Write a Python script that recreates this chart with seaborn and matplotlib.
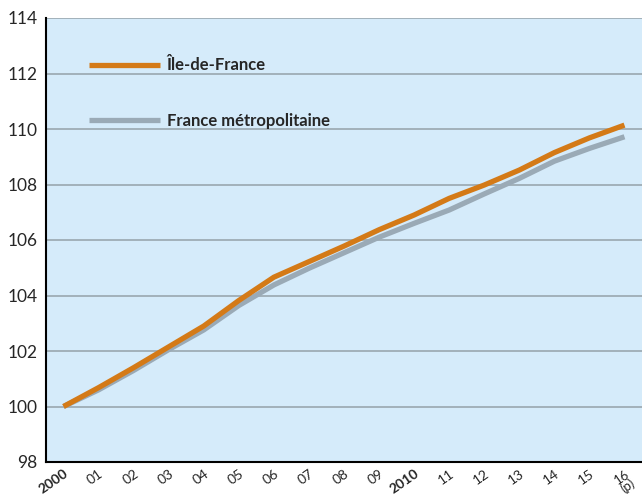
import numpy as np
import pandas as pd
import matplotlib
matplotlib.use("Agg")
import matplotlib.pyplot as plt
import seaborn as sns

# années (2016 provisoire)
annees = ["2000", "01", "02", "03", "04", "05", "06", "07", "08", "09",
          "2010", "11", "12", "13", "14", "15", "16\n(p)"]
idf = [100.0, 100.68, 101.4, 102.15, 102.9, 103.82, 104.66, 105.22, 105.78,
       106.37, 106.9, 107.5, 107.98, 108.52, 109.15, 109.68, 110.14]
fm = [100.0, 100.6, 101.3, 102.05, 102.76, 103.64, 104.38, 104.98, 105.54,
      106.1, 106.6, 107.08, 107.66, 108.22, 108.84, 109.3, 109.72]

df = pd.DataFrame({
    "x": list(range(len(annees))) * 2,
    "valeur": idf + fm,
    "zone": ["Île-de-France"] * len(idf) + ["France métropolitaine"] * len(fm),
})

sns.set_style("white")
plt.rcParams["font.family"] = ["Lato", "DejaVu Sans"]

fig = plt.figure(figsize=(6.42, 4.96), dpi=100)
ax = fig.add_axes([46 / 642, 34 / 496, 596 / 642, 444 / 496])
ax.set_facecolor("#D5EBFA")

sns.lineplot(data=df, x="x", y="valeur", hue="zone",
             palette={"Île-de-France": "#D47A17", "France métropolitaine": "#9AAAB6"},
             hue_order=["France métropolitaine", "Île-de-France"],
             linewidth=3.8, ax=ax, legend=False)
lines = ax.get_lines()
lines[0].set_zorder(2)
lines[1].set_zorder(3)
for l in lines:
    l.set_solid_capstyle("butt")

ax.set_xlim(-0.5, len(annees) - 0.5)
ax.set_ylim(98, 114)
ax.set_yticks(np.arange(98, 115, 2))
ax.yaxis.grid(True, color="#9AA7AF", linewidth=1.2)
ax.set_axisbelow(True)

ax.set_xticks(range(len(annees)))
ax.set_xticklabels(annees, rotation=35, ha="right", rotation_mode="anchor",
                   fontsize=10, linespacing=0.85)
for lab in ax.get_xticklabels():
    if lab.get_text() in ("2000", "2010"):
        lab.set_fontweight("bold")
    if lab.get_text().startswith("16"):
        lab.set_fontsize(9.5)
ax.set_xticks(np.arange(0.5, len(annees) - 0.5, 1), minor=True)
ax.tick_params(axis="x", which="major", length=0, pad=4)
ax.tick_params(axis="x", which="minor", direction="in", length=6, width=1.5, color="black")
ax.tick_params(axis="y", labelsize=12.5, length=4, width=1.2, color="black", direction="out", pad=2)

ax.set_xlabel("")
ax.set_ylabel("")
for s in ["top", "right"]:
    ax.spines[s].set_visible(False)
for s in ["left", "bottom"]:
    ax.spines[s].set_color("black")
    ax.spines[s].set_linewidth(1.5)

handles = [lines[1], lines[0]]
leg = ax.legend(handles, ["Île-de-France", "France métropolitaine"],
                loc="upper left", bbox_to_anchor=(0.047, 0.945), frameon=False,
                handlelength=4.25, handletextpad=0.42, labelspacing=2.35,
                prop={"weight": "bold", "size": 12})

fig.savefig("out.png", dpi=100)
